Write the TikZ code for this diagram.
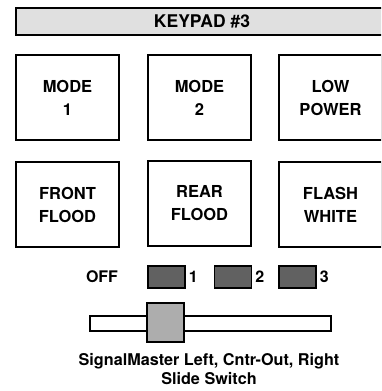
\documentclass[tikz,border=0pt]{standalone}
\usepackage{fontspec}
\setmainfont{TeX Gyre Heros}
\usepackage{tikz}
\usetikzlibrary{positioning}
\definecolor{bargray}{gray}{0.88}
\definecolor{ledgray}{gray}{0.38}
\definecolor{knobgray}{gray}{0.68}
\tikzset{
  keybox/.style={draw, line width=1.3pt, fill=white, minimum width=103pt,
      minimum height=85pt, align=center, font=\fontsize{16.5}{23}\selectfont\bfseries},
  ledbox/.style={draw, line width=1.3pt, fill=ledgray, minimum width=37pt,
      minimum height=22pt, inner sep=0pt},
  ledlabel/.style={font=\fontsize{16}{18}\selectfont\bfseries, inner sep=0pt},
}

\begin{document}
\begin{tikzpicture}[x=1pt, y=-1pt]
      \clip (0,0) rectangle (381,391);

      % title bar
      \node [draw, line width=1.3pt, fill=bargray, minimum width=372pt, minimum height=27pt,
        font=\fontsize{17.5}{20}\selectfont\bfseries] (title) at (202,21.5) {KEYPAD \#3};

      % keys
      \node [keybox] (mode1) at (67.5,97.5) {MODE\\1};
      \node [keybox] (mode2) at (199.5,97.5) {MODE\\2};
      \node [keybox] (lowpower) at (330.5,97.5) {LOW\\POWER};
      \node [keybox] (frontflood) at (67.5,204.5) {FRONT\\FLOOD};
      \node [keybox] (rearflood) at (199.5,203.5) {REAR\\FLOOD};
      \node [keybox] (flashwhite) at (330.5,204.5) {FLASH\\WHITE};

      % switch positions
      \node [ledlabel] (off) at (102,277) {OFF};
      \foreach \Pos/\Num in {166.5/1, 233/2, 297.5/3}{
          \node [ledbox] (led\Num) at (\Pos,277) {};
          \node [ledlabel, right=3pt of led\Num] (ledtext\Num) {\Num};
        }

      % slide switch
      \node [draw, line width=1.3pt, fill=white, minimum width=241pt, minimum height=15pt,
        inner sep=0pt] (track) at (210.5,323.5) {};
      \node [draw, line width=1.3pt, fill=knobgray, minimum width=37pt, minimum height=39pt,
        inner sep=0pt] (knob) at (165.5,322.5) {};

      \node [align=center, font=\fontsize{16.2}{18.5}\selectfont\bfseries] (caption) at (209,369)
      {SignalMaster Left, Cntr-Out, Right\\Slide Switch};
    \end{tikzpicture}
\end{document}
